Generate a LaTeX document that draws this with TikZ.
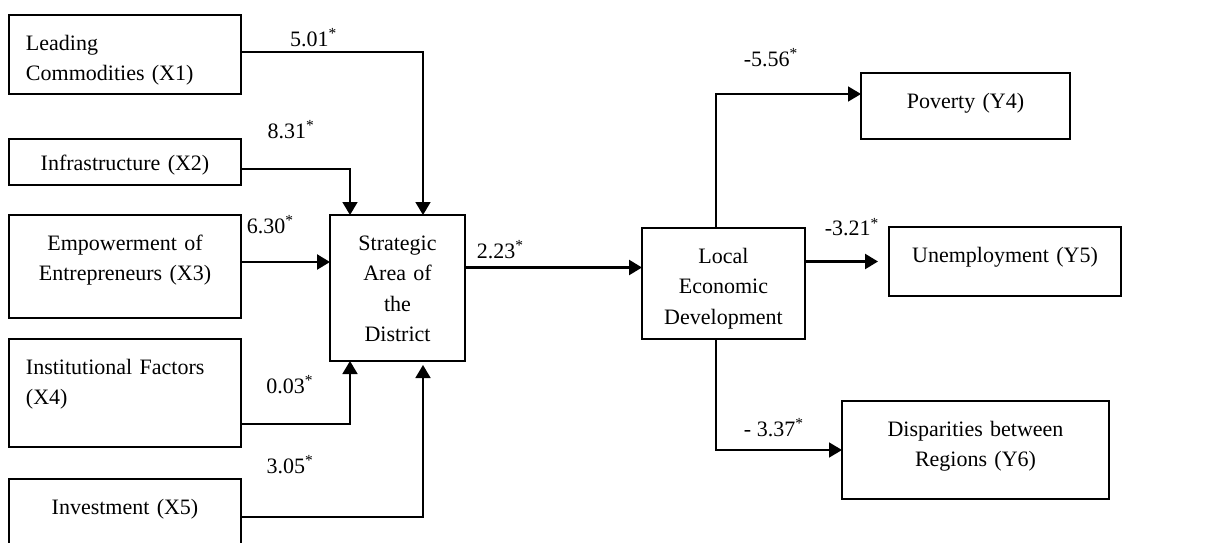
\documentclass[tikz,border=0pt]{standalone}
\usepackage{fontspec}
\setmainfont{Liberation Serif}
\usetikzlibrary{arrows.meta,positioning}

\begin{document}
\begin{tikzpicture}[every node/.style={font=\fontsize{11}{15.25}\selectfont},
    box/.style={draw,line width=0.8pt,outer sep=0pt,inner xsep=8.5pt,inner ysep=0pt,text height=17.5pt,align=center},
    col/.style={box,text width=99pt},
    lbl/.style={inner sep=1.5pt},
    arr/.style={line width=0.8pt,-{Triangle[length=6.5pt,width=7.5pt]}},
    heavy/.style={arr,line width=1.2pt}]

    \useasboundingbox (-4.5pt,7.5pt) rectangle (609pt,-263.5pt);

    \node[col,align=left,text depth=22pt,anchor=north west] (X1) at (0,0) {Leading\\Commodities (X1)};
    \node[col,text height=15.5pt,text depth=7.5pt] (X2) [below=22.5pt of X1] {Infrastructure (X2)};
    \node[col,text depth=34pt] (X3) [below=15pt of X2] {Empowerment of\\Entrepreneurs (X3)};
    \node[col,align=left,text depth=36.5pt] (X4) [below=10.5pt of X3] {Institutional Factors\\(X4)};
    \node[col,text depth=25.5pt] (X5) [below=16pt of X4] {Investment (X5)};
    \node[box,text width=50.5pt,text depth=55.5pt] (SA) [right=44.5pt of X3.north east,anchor=north west] {Strategic\\Area of\\the\\District};
    \node[box,text width=64.5pt,text depth=38pt] (LED) [right=88.5pt of SA,yshift=2.25pt] {Local\\Economic\\Development};
    \node[box,text width=99pt,text depth=17pt] (Y5) [right=42pt of LED,yshift=11pt] {Unemployment (Y5)};
    \node[box,text width=87.5pt,text depth=15.5pt] (Y4) [above=44pt of Y5,xshift=-19.75pt] {Poverty (Y4)};
    \node[box,text width=116.5pt,text depth=31.5pt] (Y6) [below=52.5pt of Y5,xshift=-14.75pt] {Disparities between\\Regions (Y6)};

    \coordinate (X3out) at ([yshift=2.25pt]X3.east);
    \coordinate (SAout) at ([yshift=10.25pt]SA.east);

    \draw[arr] ([yshift=1.25pt]X1.east) -| node[lbl,above=0.5pt,pos=0.2] {5.01\textsuperscript{*}} ([xshift=12.75pt]SA.north);
    \draw[arr] ([yshift=-3.5pt]X2.east) -| node[lbl,above=13pt,pos=0.23] {8.31\textsuperscript{*}} ([xshift=-23.75pt]SA.north);
    \draw[heavy] (X3out) -- node[lbl,above=12pt,pos=0.33] {6.30\textsuperscript{*}} (X3out -| SA.west);
    \draw[arr] ([yshift=-15.5pt]X4.east) -| node[lbl,above=13pt,pos=0.225] {0.03\textsuperscript{*}} ([xshift=-23.75pt]SA.south);
    \draw[arr] ([yshift=2.5pt]X5.east) -| node[lbl,above=19.5pt,pos=0.135] {3.05\textsuperscript{*}} ([xshift=12.75pt,yshift=-2pt]SA.south);
    \draw[heavy] (SAout) -- node[lbl,above=2.25pt,pos=0.2] {2.23\textsuperscript{*}} (SAout -| LED.west);
    \draw[arr] ([xshift=-3.75pt]LED.north) |- node[lbl,above=11.5pt,pos=0.69] {-5.56\textsuperscript{*}} ([yshift=6pt]Y4.west);
    \draw[heavy,shorten >=5.5pt] (Y5.west -| LED.east) -- node[lbl,above=10.5pt,pos=0.56] {-3.21\textsuperscript{*}} (Y5.west);
    \draw[arr] ([xshift=-3.75pt]LED.south) |- node[lbl,above=4.5pt,pos=0.73] {- 3.37\textsuperscript{*}} (Y6.west);
\end{tikzpicture}
\end{document}
